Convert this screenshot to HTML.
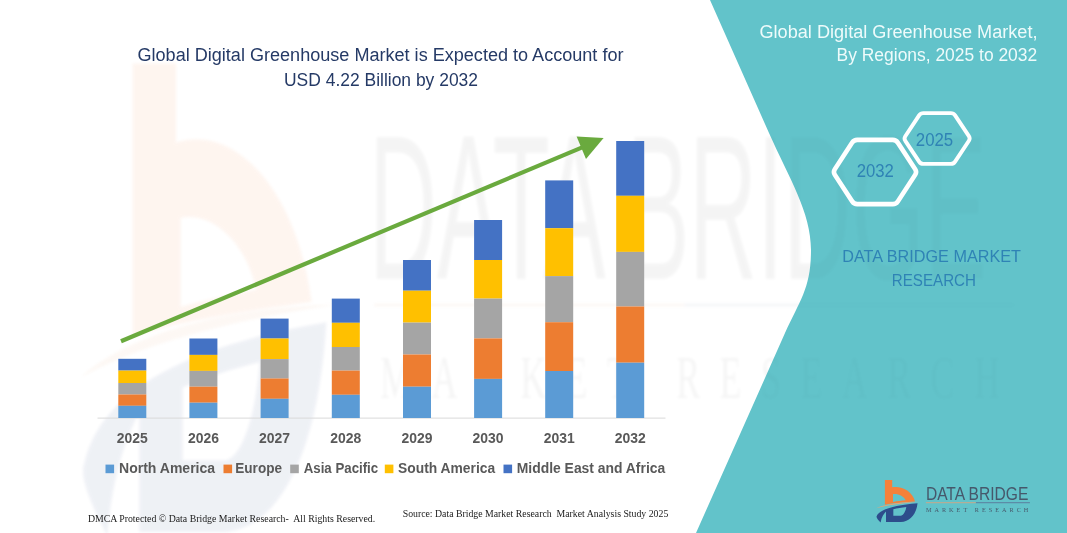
<!DOCTYPE html>
<html lang="en">
<head>
<meta charset="utf-8">
<title>Global Digital Greenhouse Market</title>
<style>
html,body{margin:0;padding:0;background:#fff;}
body{width:1067px;height:533px;overflow:hidden;}
svg{display:block;}
text{font-family:"Liberation Sans",Arial,sans-serif;}
.ttl{font-size:18px;fill:#253a66;}
.rt{font-size:18px;fill:#eefbfb;}
.yr{font-size:14px;font-weight:700;fill:#595959;}
.lg{font-size:14px;font-weight:700;fill:#595959;}
.ft{font-family:"Liberation Serif","Times New Roman",serif;fill:#1a1a1a;}
.bl{fill:#2f83b5;}
</style>
</head>
<body>
<svg width="1067" height="533" viewBox="0 0 1067 533">
<rect width="1067" height="533" fill="#ffffff"/>

<!-- watermark icon -->
<filter id="blur" x="-5%" y="-5%" width="110%" height="110%"><feGaussianBlur stdDeviation="1.6"/></filter>
<g opacity="0.075" filter="url(#blur)">
  <g transform="translate(32.4,-27) scale(0.668,1.256)">
    <path d="M150,72 L215,72 L215,135 C300,120 395,170 418,262 C340,268 230,275 150,290 Z M222,195 C270,190 320,215 335,252 C300,256 260,260 222,266 Z" fill="#f5813a" fill-rule="evenodd"/>
    <path d="M72,322 C150,285 300,266 455,264 C300,276 160,296 72,322 Z" fill="#e7a676"/>
    <path d="M440,278 C430,370 380,440 290,445 L160,445 L160,350 C140,370 120,400 112,448 C85,420 70,400 78,390 C100,340 200,300 440,278 Z M225,330 C260,322 300,315 340,310 C335,350 315,385 290,388 L225,388 Z" fill="#2d4d8b" fill-rule="evenodd"/>
  </g>
</g>

<!-- teal panel -->
<path id="teal" d="M710,0 L769,133 C789,178 811,212 811,250 C811,288 800,300 785,333 L696,533 L1067,533 L1067,0 Z" fill="#62c3ca"/>

<!-- watermark text -->
<mask id="wmmask" maskUnits="userSpaceOnUse" x="0" y="0" width="1067" height="533">
  <rect width="1067" height="533" fill="#fff"/>
  <path d="M710,0 L769,133 C789,178 811,212 811,250 C811,288 800,300 785,333 L696,533 L1067,533 L1067,0 Z" fill="#6a6a6a"/>
</mask>
<g id="wm-text" fill="#000" opacity="0.04" filter="url(#blur)" mask="url(#wmmask)">
  <text transform="translate(369,278.5) scale(1,2.27)" font-size="91" textLength="618" lengthAdjust="spacingAndGlyphs">DATA BRIDGE</text>
  <rect x="374" y="303.5" width="310" height="3" fill="#d2691e"/><rect x="684" y="303.5" width="330" height="3" fill="#1f3f6a"/>
  <text transform="translate(380,398) scale(1,1.7)" font-size="36" textLength="620" lengthAdjust="spacing" style="font-family:'Liberation Serif',serif">MARKET RESEARCH</text>
</g>

<!-- titles -->
<text class="ttl" x="137.5" y="61.2" textLength="486" lengthAdjust="spacingAndGlyphs">Global Digital Greenhouse Market is Expected to Account for</text>
<text class="ttl" x="284" y="85.8" textLength="194" lengthAdjust="spacingAndGlyphs">USD 4.22 Billion by 2032</text>

<!-- chart -->
<rect x="97.5" y="417.6" width="568" height="1" fill="#d9d9d9"/>
<rect x="118.3" y="358.8" width="28.0" height="11.8" fill="#4472c4"/>
<rect x="118.3" y="370.6" width="28.0" height="12.4" fill="#ffc000"/>
<rect x="118.3" y="383.0" width="28.0" height="11.5" fill="#a5a5a5"/>
<rect x="118.3" y="394.5" width="28.0" height="11.3" fill="#ed7d31"/>
<rect x="118.3" y="405.8" width="28.0" height="12.2" fill="#5b9bd5"/>
<rect x="189.4" y="338.5" width="28.0" height="16.4" fill="#4472c4"/>
<rect x="189.4" y="354.9" width="28.0" height="16.0" fill="#ffc000"/>
<rect x="189.4" y="370.9" width="28.0" height="15.8" fill="#a5a5a5"/>
<rect x="189.4" y="386.7" width="28.0" height="16.0" fill="#ed7d31"/>
<rect x="189.4" y="402.7" width="28.0" height="15.3" fill="#5b9bd5"/>
<rect x="260.6" y="318.6" width="28.0" height="19.9" fill="#4472c4"/>
<rect x="260.6" y="338.5" width="28.0" height="20.6" fill="#ffc000"/>
<rect x="260.6" y="359.1" width="28.0" height="19.4" fill="#a5a5a5"/>
<rect x="260.6" y="378.5" width="28.0" height="20.3" fill="#ed7d31"/>
<rect x="260.6" y="398.8" width="28.0" height="19.2" fill="#5b9bd5"/>
<rect x="331.8" y="298.6" width="28.0" height="24.2" fill="#4472c4"/>
<rect x="331.8" y="322.8" width="28.0" height="24.2" fill="#ffc000"/>
<rect x="331.8" y="347.0" width="28.0" height="23.6" fill="#a5a5a5"/>
<rect x="331.8" y="370.6" width="28.0" height="24.2" fill="#ed7d31"/>
<rect x="331.8" y="394.8" width="28.0" height="23.2" fill="#5b9bd5"/>
<rect x="403.0" y="260.0" width="28.0" height="30.7" fill="#4472c4"/>
<rect x="403.0" y="290.7" width="28.0" height="31.9" fill="#ffc000"/>
<rect x="403.0" y="322.6" width="28.0" height="31.9" fill="#a5a5a5"/>
<rect x="403.0" y="354.5" width="28.0" height="32.2" fill="#ed7d31"/>
<rect x="403.0" y="386.7" width="28.0" height="31.3" fill="#5b9bd5"/>
<rect x="474.1" y="220.0" width="28.0" height="40.0" fill="#4472c4"/>
<rect x="474.1" y="260.0" width="28.0" height="38.6" fill="#ffc000"/>
<rect x="474.1" y="298.6" width="28.0" height="39.8" fill="#a5a5a5"/>
<rect x="474.1" y="338.4" width="28.0" height="40.5" fill="#ed7d31"/>
<rect x="474.1" y="378.9" width="28.0" height="39.1" fill="#5b9bd5"/>
<rect x="545.2" y="180.4" width="28.0" height="47.8" fill="#4472c4"/>
<rect x="545.2" y="228.2" width="28.0" height="47.9" fill="#ffc000"/>
<rect x="545.2" y="276.1" width="28.0" height="46.1" fill="#a5a5a5"/>
<rect x="545.2" y="322.2" width="28.0" height="48.8" fill="#ed7d31"/>
<rect x="545.2" y="371.0" width="28.0" height="47.0" fill="#5b9bd5"/>
<rect x="616.2" y="141.0" width="28.0" height="54.8" fill="#4472c4"/>
<rect x="616.2" y="195.8" width="28.0" height="56.1" fill="#ffc000"/>
<rect x="616.2" y="251.9" width="28.0" height="54.6" fill="#a5a5a5"/>
<rect x="616.2" y="306.5" width="28.0" height="56.2" fill="#ed7d31"/>
<rect x="616.2" y="362.7" width="28.0" height="55.3" fill="#5b9bd5"/>
<g class="yr">
<text x="132.3" y="443.2" text-anchor="middle" textLength="31" lengthAdjust="spacingAndGlyphs">2025</text>
<text x="203.4" y="443.2" text-anchor="middle" textLength="31" lengthAdjust="spacingAndGlyphs">2026</text>
<text x="274.6" y="443.2" text-anchor="middle" textLength="31" lengthAdjust="spacingAndGlyphs">2027</text>
<text x="345.8" y="443.2" text-anchor="middle" textLength="31" lengthAdjust="spacingAndGlyphs">2028</text>
<text x="417.0" y="443.2" text-anchor="middle" textLength="31" lengthAdjust="spacingAndGlyphs">2029</text>
<text x="488.1" y="443.2" text-anchor="middle" textLength="31" lengthAdjust="spacingAndGlyphs">2030</text>
<text x="559.2" y="443.2" text-anchor="middle" textLength="31" lengthAdjust="spacingAndGlyphs">2031</text>
<text x="630.2" y="443.2" text-anchor="middle" textLength="31" lengthAdjust="spacingAndGlyphs">2032</text>
</g>
<g class="lg">
<rect x="105.5" y="464.6" width="8.6" height="8.6" fill="#5b9bd5"/><text x="119.0" y="472.8" textLength="96.1" lengthAdjust="spacingAndGlyphs">North America</text>
<rect x="223.5" y="464.6" width="8.6" height="8.6" fill="#ed7d31"/><text x="235.3" y="472.8" textLength="46.7" lengthAdjust="spacingAndGlyphs">Europe</text>
<rect x="290.2" y="464.6" width="8.6" height="8.6" fill="#a5a5a5"/><text x="303.7" y="472.8" textLength="74.5" lengthAdjust="spacingAndGlyphs">Asia Pacific</text>
<rect x="384.8" y="464.6" width="8.6" height="8.6" fill="#ffc000"/><text x="398.1" y="472.8" textLength="97.0" lengthAdjust="spacingAndGlyphs">South America</text>
<rect x="503.5" y="464.6" width="8.6" height="8.6" fill="#4472c4"/><text x="516.8" y="472.8" textLength="148.4" lengthAdjust="spacingAndGlyphs">Middle East and Africa</text>
</g>

<!-- arrow -->
<g fill="#6aaa3e" stroke="none">
  <line x1="121" y1="341.3" x2="584" y2="146.6" stroke="#6aaa3e" stroke-width="4.2"/>
  <polygon points="603.6,138 576.6,136.4 586,158.9"/>
</g>

<!-- right panel text -->
<text class="rt" x="759.5" y="37.6" textLength="278" lengthAdjust="spacingAndGlyphs">Global Digital Greenhouse Market,</text>
<text class="rt" x="836.6" y="61.2" textLength="200.6" lengthAdjust="spacingAndGlyphs">By Regions, 2025 to 2032</text>

<!-- hexagons -->
<g fill="none" stroke="#ffffff" stroke-linejoin="round">
  <path d="M834.8,174.7 Q833.0,172.0 834.8,169.3 L852.2,142.6 Q854.0,139.9 857.2,139.9 L892.8,139.9 Q896.0,139.9 897.8,142.6 L915.2,169.3 Q917.0,172.0 915.2,174.7 L897.8,201.4 Q896.0,204.1 892.8,204.1 L857.2,204.1 Q854.0,204.1 852.2,201.4 Z" stroke-width="4.6"/>
  <path d="M905.3,140.8 Q903.8,138.5 905.3,136.2 L919.1,115.4 Q920.6,113.1 923.4,113.1 L950.8,113.1 Q953.6,113.1 955.1,115.4 L968.9,136.2 Q970.4,138.5 968.9,140.8 L955.1,161.6 Q953.6,163.9 950.8,163.9 L923.4,163.9 Q920.6,163.9 919.1,161.6 Z" stroke-width="3.9"/>
</g>
<text class="bl" x="856.7" y="177.4" font-size="17.5" textLength="37.2" lengthAdjust="spacingAndGlyphs">2032</text>
<text class="bl" x="915.8" y="145.8" font-size="17.5" textLength="37.4" lengthAdjust="spacingAndGlyphs">2025</text>

<text class="bl" x="842.3" y="262.4" font-size="16.8" textLength="178.7" lengthAdjust="spacingAndGlyphs">DATA BRIDGE MARKET</text>
<text class="bl" x="891.8" y="286.1" font-size="16.8" textLength="84.2" lengthAdjust="spacingAndGlyphs">RESEARCH</text>

<!-- logo -->
<g id="logo">
  <g transform="translate(868,472) scale(0.11257)">
    <path d="M150,72 L215,72 L215,135 C300,120 395,170 418,262 C340,268 230,275 150,290 Z M222,195 C270,190 320,215 335,252 C300,256 260,260 222,266 Z" fill="#f5813a" fill-rule="evenodd"/>
    <path d="M72,322 C150,285 300,266 455,264 C300,276 160,296 72,322 Z" fill="#e7a676"/>
    <path d="M440,278 C430,370 380,440 290,445 L160,445 L160,350 C140,370 120,400 112,448 C85,420 70,400 78,390 C100,340 200,300 440,278 Z M225,330 C260,322 300,315 340,310 C335,350 315,385 290,388 L225,388 Z" fill="#2d4d8b" fill-rule="evenodd"/>
  </g>
  <text x="925.9" y="499.7" font-size="18.6" fill="#46586b" textLength="102.4" lengthAdjust="spacingAndGlyphs">DATA BRIDGE</text>
  <rect x="925.9" y="502.2" width="50" height="1" fill="#c9a98a"/>
  <rect x="975.9" y="502.2" width="54" height="1" fill="#5b7f9e"/>
  <text x="925.9" y="511.8" font-size="6.2" fill="#46586b" textLength="102.4" lengthAdjust="spacing" style="font-family:'Liberation Serif',serif">MARKET RESEARCH</text>
</g>

<!-- footers -->
<text class="ft" x="87.9" y="522.1" font-size="10.4" textLength="287.3" lengthAdjust="spacingAndGlyphs" xml:space="preserve">DMCA Protected © Data Bridge Market Research-  All Rights Reserved.</text>
<text class="ft" x="402.7" y="517.4" font-size="10.2" textLength="265.6" lengthAdjust="spacingAndGlyphs" xml:space="preserve">Source: Data Bridge Market Research  Market Analysis Study 2025</text>
</svg>
</body>
</html>
